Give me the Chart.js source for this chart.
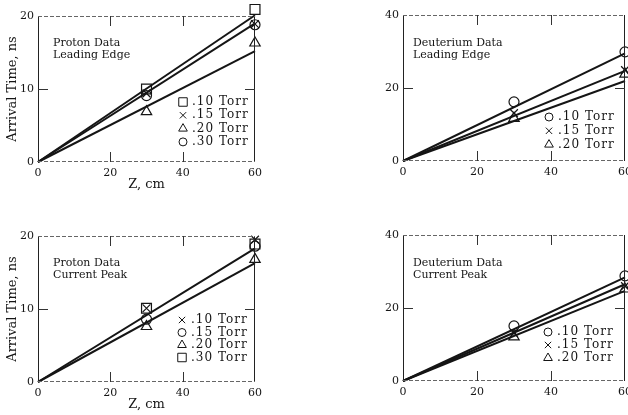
<!DOCTYPE html>
<html>
<head>
<meta charset="utf-8">
<title>Arrival Time vs Z</title>
<script src="https://cdn.jsdelivr.net/npm/chart.js@4/dist/chart.umd.min.js"></script>
<style>
  html, body { margin: 0; padding: 0; background: #fff; overflow: hidden; }
  body { position: relative; width: 628px; height: 415px; }
  canvas { position: absolute; }
</style>
</head>
<body>
<canvas id="protonEdge" width="280" height="200" style="left:0;top:0"></canvas>
<canvas id="deutEdge" width="290" height="200" style="left:360px;top:0"></canvas>
<canvas id="protonPeak" width="280" height="200" style="left:0;top:220px"></canvas>
<canvas id="deutPeak" width="290" height="200" style="left:360px;top:220px"></canvas>
<script>

    /*********************************
     *            Data               *
     ********************************/

    // probe positions along the drift tube (cm)
    var zProbe = [30, 60];
    // fitted lines run from the origin out to z = 60
    var fitZ = [0, 60];

    var pressureLabels = ['.10 Torr', '.15 Torr', '.20 Torr', '.30 Torr'];

    // proton data, leading edge (ns)
    var pEdge10 = [10.0, 20.9];
    var pEdge15 = [9.4, 18.9];
    var pEdge20 = [6.9, 16.3];
    var pEdge30 = [9.1, 18.8];
    var pEdgeFit = [20.1, 19.0, 15.2];

    // deuterium data, leading edge (ns)
    var dEdge10 = [16.2, 29.9];
    var dEdge15 = [13.1, 24.9];
    var dEdge20 = [11.7, 23.8];
    var dEdgeFit = [29.5, 24.7, 21.9];

    // proton data, current peak (ns)
    var pPeak10 = [10.1, 19.5];
    var pPeak15 = [8.6, 18.6];
    var pPeak20 = [7.6, 16.8];
    var pPeak30 = [10.1, 18.9];
    var pPeakFit = [18.3, 16.3];

    // deuterium data, current peak (ns)
    var dPeak10 = [15.1, 28.8];
    var dPeak15 = [13.1, 26.0];
    var dPeak20 = [12.1, 25.2];
    var dPeakFit = [28.4, 26.5, 24.7];

    var zTicks = [0, 20, 40, 60];

    /*********************************
     *     Function Declaration      *
     ********************************/

    var SERIF = '"DejaVu Serif", "Liberation Serif", serif';
    var INK = '#151515';
    var markerSize = { rect: 7, crossRot: 5.5, triangle: 6, circle: 5 };

    Chart.defaults.font.family = SERIF;
    Chart.defaults.color = INK;

    // open symbols at the two probe positions
    function markerSet(values, style) {
        return {
            data: zProbe.map(function(z, i){ return {x: z, y: values[i]}; }),
            showLine: false,
            pointStyle: style,
            pointRadius: markerSize[style],
            pointBorderColor: INK,
            pointBackgroundColor: 'rgba(0,0,0,0)',
            pointBorderWidth: 1.2,
            clip: false
        };
    }

    // straight fit through the origin
    function fitSet(endValue) {
        return {
            data: [{x: fitZ[0], y: 0}, {x: fitZ[1], y: endValue}],
            borderColor: INK,
            borderWidth: 2,
            pointRadius: 0,
            clip: false
        };
    }

    // frame, inward tick marks, caption and symbol key
    var panelDecor = {
        id: 'panelDecor',
        afterDraw: function(chart, args, opts) {
            var ctx = chart.ctx, a = chart.chartArea;
            var xs = chart.scales.x, ys = chart.scales.y;
            ctx.save();

            ctx.lineWidth = 1;
            ctx.strokeStyle = '#222';
            ctx.beginPath();
            ctx.moveTo(a.left + 0.5, a.top); ctx.lineTo(a.left + 0.5, a.bottom);
            ctx.moveTo(a.right - 0.5, a.top); ctx.lineTo(a.right - 0.5, a.bottom);
            ctx.stroke();

            ctx.strokeStyle = '#666';
            ctx.setLineDash([4, 2]);
            ctx.beginPath();
            ctx.moveTo(a.left, a.top + 0.5); ctx.lineTo(a.right, a.top + 0.5);
            ctx.moveTo(a.left, a.bottom - 0.5); ctx.lineTo(a.right, a.bottom - 0.5);
            ctx.stroke();
            ctx.setLineDash([]);

            // ticks point into the plot
            var len = 10;
            ctx.strokeStyle = '#333';
            ctx.beginPath();
            xs.ticks.forEach(function(t){
                if (t.value <= xs.min || t.value >= xs.max) return;
                var px = Math.round(xs.getPixelForValue(t.value)) + 0.5;
                ctx.moveTo(px, a.top); ctx.lineTo(px, a.top + len);
                ctx.moveTo(px, a.bottom); ctx.lineTo(px, a.bottom - len);
            });
            ys.ticks.forEach(function(t){
                if (t.value <= ys.min || t.value >= ys.max) return;
                var py = Math.round(ys.getPixelForValue(t.value)) + 0.5;
                ctx.moveTo(a.left, py); ctx.lineTo(a.left + len, py);
                ctx.moveTo(a.right, py); ctx.lineTo(a.right - len, py);
            });
            ctx.stroke();

            ctx.fillStyle = INK;
            ctx.textBaseline = 'middle';
            ctx.textAlign = 'left';
            ctx.font = '11px ' + SERIF;
            opts.caption.forEach(function(line, i){
                ctx.fillText(line, a.left + opts.captionX, a.top + opts.captionY + i * 12);
            });

            // symbol key
            ctx.font = '12px ' + SERIF;
            if ('letterSpacing' in ctx) ctx.letterSpacing = '1px';
            opts.key.forEach(function(k, i){
                var y = a.top + opts.keyY + i * opts.keyStep;
                ctx.strokeStyle = INK;
                ctx.fillStyle = 'rgba(0,0,0,0)';
                Chart.helpers.drawPoint(ctx, {
                    pointStyle: k.style, radius: markerSize[k.style] - 1,
                    rotation: 0, borderWidth: 1.1
                }, a.left + opts.keyX, y);
                ctx.fillStyle = INK;
                ctx.fillText(k.label, a.left + opts.keyX + 9, y);
            });
            ctx.restore();
        }
    };

    function drawPanel(canvasId, yMax, yStep, datasets, decor, withTitles, axisW, axisH) {
        var config = {
            type: 'line',
            data: { datasets: datasets },
            plugins: [panelDecor],
            options: {
                responsive: false,
                animation: false,
                events: [],
                layout: { padding: { left: 0, right: decor.padRight, top: decor.padTop, bottom: 0 } },
                scales: {
                    x: {
                        type: 'linear', min: 0, max: 60,
                        afterBuildTicks: function(s){ s.ticks = zTicks.map(function(v){ return {value: v}; }); },
                        ticks: { padding: 5, font: { size: 11 }, color: INK, maxRotation: 0 },
                        grid: { display: false, drawTicks: false },
                        border: { display: false },
                        title: { display: withTitles, text: 'Z, cm', font: { size: 13 }, color: INK,
                                 padding: { top: 0, bottom: 8 } },
                        afterFit: function(s){ s.height = axisH; }
                    },
                    y: {
                        type: 'linear', min: 0, max: yMax,
                        ticks: { stepSize: yStep, padding: 4, font: { size: 11 }, color: INK },
                        grid: { display: false, drawTicks: false },
                        border: { display: false },
                        title: { display: withTitles, text: 'Arrival Time, ns', font: { size: 13 }, color: INK,
                                 padding: { top: 5, bottom: 0 } },
                        afterFit: function(s){ s.width = axisW; }
                    }
                },
                plugins: {
                    legend: { display: false },
                    tooltip: { enabled: false },
                    panelDecor: decor
                }
            }
        };
        return new Chart(document.getElementById(canvasId), config);
    }

    /*********************************
     *    End Function Declaration   *
     ********************************/

    drawPanel('protonEdge', 20, 10, [
        fitSet(pEdgeFit[0]), fitSet(pEdgeFit[1]), fitSet(pEdgeFit[2]),
        markerSet(pEdge10, 'rect'), markerSet(pEdge15, 'crossRot'),
        markerSet(pEdge20, 'triangle'), markerSet(pEdge30, 'circle')
    ], {
        padRight: 25, padTop: 16,
        caption: ['Proton Data', 'Leading Edge'], captionX: 15, captionY: 27,
        keyX: 145, keyY: 86, keyStep: 13.3,
        key: [
            {style: 'rect', label: pressureLabels[0]}, {style: 'crossRot', label: pressureLabels[1]},
            {style: 'triangle', label: pressureLabels[2]}, {style: 'circle', label: pressureLabels[3]}
        ]
    }, true, 38, 38);

    drawPanel('deutEdge', 40, 20, [
        fitSet(dEdgeFit[0]), fitSet(dEdgeFit[1]), fitSet(dEdgeFit[2]),
        markerSet(dEdge10, 'circle'), markerSet(dEdge15, 'crossRot'), markerSet(dEdge20, 'triangle')
    ], {
        padRight: 25, padTop: 15,
        caption: ['Deuterium Data', 'Leading Edge'], captionX: 10, captionY: 28,
        keyX: 146, keyY: 102, keyStep: 13.8,
        key: [
            {style: 'circle', label: pressureLabels[0]}, {style: 'crossRot', label: pressureLabels[1]},
            {style: 'triangle', label: pressureLabels[2]}
        ]
    }, false, 43, 39);

    drawPanel('protonPeak', 20, 10, [
        fitSet(pPeakFit[0]), fitSet(pPeakFit[1]),
        markerSet(pPeak10, 'crossRot'), markerSet(pPeak15, 'circle'),
        markerSet(pPeak20, 'triangle'), markerSet(pPeak30, 'rect')
    ], {
        padRight: 25, padTop: 16,
        caption: ['Proton Data', 'Current Peak'], captionX: 15, captionY: 27,
        keyX: 144, keyY: 84, keyStep: 12.5,
        key: [
            {style: 'crossRot', label: pressureLabels[0]}, {style: 'circle', label: pressureLabels[1]},
            {style: 'triangle', label: pressureLabels[2]}, {style: 'rect', label: pressureLabels[3]}
        ]
    }, true, 38, 38);

    drawPanel('deutPeak', 40, 20, [
        fitSet(dPeakFit[0]), fitSet(dPeakFit[1]), fitSet(dPeakFit[2]),
        markerSet(dPeak10, 'circle'), markerSet(dPeak15, 'crossRot'), markerSet(dPeak20, 'triangle')
    ], {
        padRight: 25, padTop: 15,
        caption: ['Deuterium Data', 'Current Peak'], captionX: 10, captionY: 28,
        keyX: 145, keyY: 97, keyStep: 13,
        key: [
            {style: 'circle', label: pressureLabels[0]}, {style: 'crossRot', label: pressureLabels[1]},
            {style: 'triangle', label: pressureLabels[2]}
        ]
    }, false, 43, 39);

</script>
</body>
</html>
